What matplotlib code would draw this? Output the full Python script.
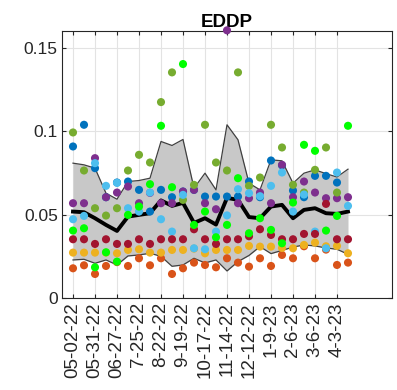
import numpy as np
import matplotlib
matplotlib.use("Agg")
import matplotlib.pyplot as plt

nan = np.nan

dates = ["05-02-22", "05-31-22", "06-27-22", "7-25-22", "8-22-22", "9-19-22",
         "10-17-22", "11-14-22", "12-12-22", "1-9-23", "2-6-23", "3-6-23", "4-3-23"]

# one value per sample (26 samples, a tick label every second sample)
s_blue = [0.0908, 0.1038, 0.0778, 0.0604, 0.0692, 0.0698, 0.0648, 0.0518, 0.0648, 0.0604,
          0.0638, 0.0648, 0.0608, 0.0608, 0.0608, 0.0608, 0.0698, 0.0604, 0.0824, 0.0795,
          0.0644, 0.0604, 0.0732, 0.0732, 0.0692, nan]
s_orange = [0.0178, 0.0196, 0.0144, 0.0192, 0.0215, 0.0192, 0.0238, 0.0196, 0.0238, 0.0144,
            0.0178, 0.0212, 0.0198, 0.0184, 0.0238, 0.0212, 0.0188, 0.0238, 0.0192, 0.0258,
            0.0238, 0.0310, 0.0238, 0.0290, 0.0198, 0.0212]
s_yellow = [0.0272, 0.0272, 0.0272, 0.0272, 0.0268, 0.0288, 0.0292, 0.0272, 0.0272, 0.0288,
            0.0288, 0.0296, 0.0268, 0.0288, 0.0288, 0.0288, 0.0312, 0.0308, 0.0308, 0.0300,
            0.0298, 0.0318, 0.0332, 0.0310, 0.0312, 0.0268]
s_purple = [0.0568, 0.0568, 0.0838, 0.0604, 0.0632, 0.0668, 0.0568, 0.0630, 0.0568, 0.0568,
            0.0638, 0.0648, 0.0568, 0.0532, 0.1604, 0.0568, 0.0598, 0.0632, 0.0568, 0.0798,
            0.0604, 0.0698, 0.0632, 0.0598, 0.0598, 0.0604]
s_olive = [0.0992, 0.0764, 0.0538, 0.0494, 0.0538, 0.0764, 0.0858, 0.0812, 0.1174, 0.1352,
           0.0588, 0.0678, 0.1038, 0.0812, 0.0764, 0.1352, 0.0672, 0.0722, 0.1038, 0.0902,
           0.0678, 0.0632, 0.0768, 0.0902, 0.0632, nan]
s_lblue = [0.0472, 0.0492, 0.0808, 0.0672, 0.0690, 0.0538, 0.0518, 0.0632, 0.0472, 0.0398,
           0.0618, 0.0298, 0.0292, 0.0398, 0.0495, 0.0652, 0.0628, 0.0610, 0.0672, 0.0752,
           0.0518, 0.0620, 0.0398, 0.0298, 0.0752, 0.0552]
s_dred = [0.0352, 0.0352, 0.0324, 0.0352, 0.0324, 0.0324, 0.0352, 0.0324, 0.0352, 0.0352,
          0.0352, 0.0412, 0.0352, 0.0324, 0.0352, 0.0352, 0.0370, 0.0412, 0.0378, 0.0352,
          0.0352, 0.0384, 0.0384, 0.0564, 0.0352, 0.0352]
s_green = [0.0404, 0.0418, 0.0184, 0.0274, 0.0218, 0.0498, 0.0548, 0.0682, 0.1032, 0.0664,
           0.1402, 0.0438, 0.0518, 0.0364, 0.0438, 0.0718, 0.0388, 0.0478, 0.0408, 0.0328,
           0.0572, 0.0918, 0.0882, 0.0404, 0.0492, 0.1032]

band_hi = [0.0808, 0.0798, 0.0778, 0.0628, 0.0592, 0.0698, 0.0704, 0.0718, 0.0938, 0.0914,
           0.0950, 0.0658, 0.0748, 0.0648, 0.1038, 0.0948, 0.0688, 0.0648, 0.0828, 0.0822,
           0.0688, 0.0748, 0.0768, 0.0745, 0.0725, 0.0772]
band_lo = [0.0228, 0.0232, 0.0208, 0.0228, 0.0198, 0.0252, 0.0258, 0.0268, 0.0250, 0.0190,
           0.0198, 0.0238, 0.0210, 0.0228, 0.0162, 0.0218, 0.0255, 0.0308, 0.0266, 0.0285,
           0.0305, 0.0318, 0.0312, 0.0300, 0.0292, 0.0262]
median = [0.0518, 0.0514, 0.0478, 0.0438, 0.0402, 0.0488, 0.0498, 0.0508, 0.0585, 0.0552,
          0.0570, 0.0450, 0.0478, 0.0440, 0.0600, 0.0588, 0.0485, 0.0478, 0.0548, 0.0558,
          0.0478, 0.0528, 0.0538, 0.0508, 0.0504, 0.0518]

series = [
    (s_blue, "#0072BD"),
    (s_orange, "#D95319"),
    (s_yellow, "#EDB120"),
    (s_purple, "#7E2F8E"),
    (s_olive, "#77AC30"),
    (s_lblue, "#4DBEEE"),
    (s_dred, "#A2142F"),
    (s_green, "#00FF00"),
]

plt.rcParams["font.family"] = ["Liberation Sans", "DejaVu Sans"]

x = np.arange(len(median))

fig = plt.figure(figsize=(3.97, 3.90), dpi=100)
ax = fig.add_axes([62 / 397, 1 - 298 / 390, 330 / 397, 267 / 390])

ax.fill_between(x, band_lo, band_hi, color="#C8C8C8", lw=0, zorder=1)
ax.plot(x, band_hi, color="#404040", lw=0.9, zorder=2)
ax.plot(x, band_lo, color="#404040", lw=0.9, zorder=2)
ax.plot(x, median, color="black", lw=2.8, zorder=3)

for vals, col in series:
    ax.scatter(x, vals, s=34, color=col, edgecolors="none", zorder=4, clip_on=False)

ax.set_xlim(-1, 29)
ax.set_ylim(0, 0.16)
ax.set_xticks(x[::2])
ax.set_xticklabels(dates, rotation=90, fontsize=13.5, color="#262626")
ax.set_yticks([0, 0.05, 0.1, 0.15])
ax.set_yticklabels(["0", "0.05", "0.1", "0.15"], fontsize=12.5, color="#262626")
ax.tick_params(direction="in", length=3, width=0.8, color="#262626",
               top=True, right=True, pad=3)
ax.grid(True, color="#E3E3E3", lw=0.8, zorder=0)
ax.set_axisbelow(True)
for sp in ax.spines.values():
    sp.set_color("#262626")
    sp.set_linewidth(0.8)

ax.set_title("EDDP", fontsize=13.5, fontweight="bold", pad=3)

fig.savefig("out.png", dpi=100)
